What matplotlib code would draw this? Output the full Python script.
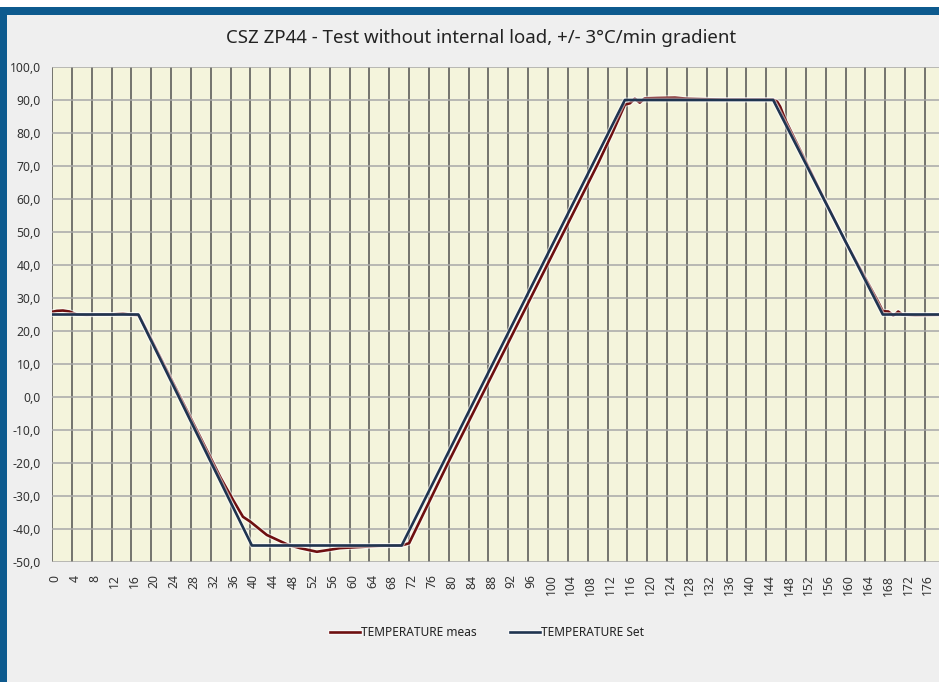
from matplotlib import pyplot as plt
import matplotlib as mpl
import matplotlib.patheffects as pe
import matplotlib.transforms as mtransforms
import numpy as np

# Data
time_set = [0, 17.4, 40.3, 70.5, 115.5, 145.4, 167.5, 179]
temp_set = [25, 25, -45, -45, 90, 90, 25, 25]

time_meas = [0, 1, 2.2, 3.5, 5, 7, 10, 12, 14.3, 15.5, 17.5, 20, 25, 30, 34,
             36.5, 38.5, 40, 43.3, 47.6, 50, 53.4, 56, 58, 62.7, 66, 70.5,
             72, 75, 80, 90, 100, 110, 113, 114.5, 115.5, 116.5, 117.5,
             118.5, 119.5, 122, 125.6, 128, 135, 145.4, 146.2, 146.8, 148,
             155, 160, 166.5, 167.5, 168.6, 169.2, 169.6, 170.2, 170.6,
             171.4, 174, 179]
temp_meas = [25.8, 26.1, 26.2, 25.9, 25.0, 24.9, 25.0, 25.0, 25.3, 25.0, 24.8,
             17.5, 2.5, -12.5, -24.5,
             -31.2, -36.3, -37.8, -41.8, -44.8, -45.8, -46.9, -46.3, -45.8,
             -45.4, -45.1, -45.0,
             -44.3, -35.0, -19.5, 10.5, 40.5, 70.5, 80.1, 85.2, 88.6, 89.0,
             90.4, 89.2, 90.5, 90.6, 90.7, 90.4, 90.1, 90.1, 89.5, 88.0, 83.5,
             62.0, 47.0, 29.0, 26.0, 25.9, 25.2, 24.7, 25.3, 25.9,
             25.0, 24.8, 24.9]

x_ticks = np.arange(0, 177, 4)
y_ticks = np.arange(-50, 101, 10)

title = 'CSZ ZP44 - Test without internal load, +/- 3°C/min gradient'

mpl.rcParams.update({
    'font.family': ['Noto Sans', 'DejaVu Sans'],
    'font.size': 8.8,
})

W, H = 939, 682
fig = plt.figure(figsize=(W / 100, H / 100), dpi=100, facecolor='#efefef')

# Frame: white strip on top, blue border top and left
blue = '#0d5a8e'
fig.patches.append(mpl.patches.Rectangle((0, 1 - 7 / H), 1, 7 / H, transform=fig.transFigure,
                                         facecolor='white', edgecolor='none', zorder=0))
fig.patches.append(mpl.patches.Rectangle((0, 1 - 15 / H), 1, 8 / H, transform=fig.transFigure,
                                         facecolor=blue, edgecolor='none', zorder=0))
fig.patches.append(mpl.patches.Rectangle((0, 0), 7 / W, 1 - 7 / H, transform=fig.transFigure,
                                         facecolor=blue, edgecolor='none', zorder=0))

ax = fig.add_axes([52 / W, 1 - 562 / H, 1 - 52 / W, (562 - 67) / H])
ax.set_facecolor('#f4f4dc')

halo = [pe.Stroke(linewidth=3.6, foreground='white', alpha=0.55), pe.Normal()]
ax.plot(time_meas, temp_meas, color='#6e0f10', linewidth=1.9,
        label='TEMPERATURE meas', path_effects=halo, zorder=3)
ax.plot(time_set, temp_set, color='#1f3450', linewidth=1.9,
        label='TEMPERATURE Set', path_effects=halo, zorder=4)

ax.set_xlim(0, (W - 52) / 4.96)
ax.set_ylim(-50, 100)
ax.set_xticks(x_ticks)
ax.set_xticklabels([str(v) for v in x_ticks], rotation=90, color='#333333')
ax.set_yticks(y_ticks)
ax.set_yticklabels([f'{v:.1f}'.replace('.', ',') for v in y_ticks], color='#333333')
ax.tick_params(axis='both', length=0)
ax.tick_params(axis='x', pad=9)
ax.tick_params(axis='y', pad=8)

# nudge x labels a little to the right, like the original
shift = mtransforms.ScaledTranslation(3 / 100, 0, fig.dpi_scale_trans)
for lbl in ax.get_xticklabels():
    lbl.set_transform(lbl.get_transform() + shift)

for s in ax.spines.values():
    s.set_visible(False)

# Grid
ax.grid(axis='x', color='#505050', linewidth=1.1)
ax.grid(axis='y', color='#a8a8a8', linewidth=1.1)
ax.set_axisbelow(True)

fig.text(481 / W, 1 - 38 / H, title, ha='center', va='center', fontsize=13.4, color='#222222')

leg = fig.legend(loc='center', bbox_to_anchor=(487 / W, 1 - 633 / H), ncol=2, frameon=False,
                 handlelength=2.5, handletextpad=0.1, columnspacing=2.8, fontsize=8.6)
for t in leg.get_texts():
    t.set_color('#222222')

fig.savefig('out.png', dpi=100, facecolor=fig.get_facecolor())
